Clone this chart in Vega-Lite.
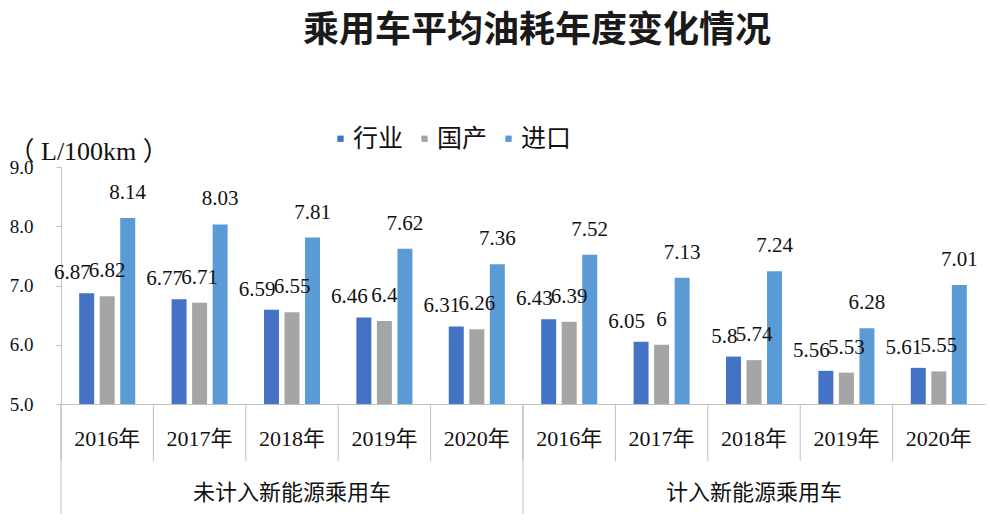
{
  "$schema": "https://vega.github.io/schema/vega-lite/v6.json",
  "background": "white",
  "padding": {"left": 8, "right": 5, "top": 13, "bottom": 5},
  "bounds": "flush",
  "title": {
    "text": "乘用车平均油耗年度变化情况",
    "font": "Noto Sans CJK SC",
    "fontSize": 36,
    "fontWeight": "bold",
    "color": "#1a1a1a",
    "anchor": "middle",
    "frame": "group",
    "dx": 476,
    "offset": 76
  },
  "data": {
    "values": [
      {"group": "未计入新能源乘用车", "year": "2016年", "series": "行业", "value": 6.87},
      {"group": "未计入新能源乘用车", "year": "2016年", "series": "国产", "value": 6.82},
      {"group": "未计入新能源乘用车", "year": "2016年", "series": "进口", "value": 8.14},
      {"group": "未计入新能源乘用车", "year": "2017年", "series": "行业", "value": 6.77},
      {"group": "未计入新能源乘用车", "year": "2017年", "series": "国产", "value": 6.71},
      {"group": "未计入新能源乘用车", "year": "2017年", "series": "进口", "value": 8.03},
      {"group": "未计入新能源乘用车", "year": "2018年", "series": "行业", "value": 6.59},
      {"group": "未计入新能源乘用车", "year": "2018年", "series": "国产", "value": 6.55},
      {"group": "未计入新能源乘用车", "year": "2018年", "series": "进口", "value": 7.81},
      {"group": "未计入新能源乘用车", "year": "2019年", "series": "行业", "value": 6.46},
      {"group": "未计入新能源乘用车", "year": "2019年", "series": "国产", "value": 6.4},
      {"group": "未计入新能源乘用车", "year": "2019年", "series": "进口", "value": 7.62},
      {"group": "未计入新能源乘用车", "year": "2020年", "series": "行业", "value": 6.31},
      {"group": "未计入新能源乘用车", "year": "2020年", "series": "国产", "value": 6.26},
      {"group": "未计入新能源乘用车", "year": "2020年", "series": "进口", "value": 7.36},
      {"group": "计入新能源乘用车", "year": "2016年", "series": "行业", "value": 6.43},
      {"group": "计入新能源乘用车", "year": "2016年", "series": "国产", "value": 6.39},
      {"group": "计入新能源乘用车", "year": "2016年", "series": "进口", "value": 7.52},
      {"group": "计入新能源乘用车", "year": "2017年", "series": "行业", "value": 6.05},
      {"group": "计入新能源乘用车", "year": "2017年", "series": "国产", "value": 6},
      {"group": "计入新能源乘用车", "year": "2017年", "series": "进口", "value": 7.13},
      {"group": "计入新能源乘用车", "year": "2018年", "series": "行业", "value": 5.8},
      {"group": "计入新能源乘用车", "year": "2018年", "series": "国产", "value": 5.74},
      {"group": "计入新能源乘用车", "year": "2018年", "series": "进口", "value": 7.24},
      {"group": "计入新能源乘用车", "year": "2019年", "series": "行业", "value": 5.56},
      {"group": "计入新能源乘用车", "year": "2019年", "series": "国产", "value": 5.53},
      {"group": "计入新能源乘用车", "year": "2019年", "series": "进口", "value": 6.28},
      {"group": "计入新能源乘用车", "year": "2020年", "series": "行业", "value": 5.61},
      {"group": "计入新能源乘用车", "year": "2020年", "series": "国产", "value": 5.55},
      {"group": "计入新能源乘用车", "year": "2020年", "series": "进口", "value": 7.01}
    ]
  },
  "facet": {
    "column": {
      "field": "group",
      "type": "nominal",
      "sort": ["未计入新能源乘用车", "计入新能源乘用车"],
      "header": {
        "title": null,
        "labelOrient": "bottom",
        "labelFont": "Noto Sans CJK SC",
        "labelFontSize": 22,
        "labelColor": "#111",
        "labelPadding": 34
      }
    }
  },
  "spacing": 0,
  "spec": {
    "width": 462,
    "height": 237,
    "encoding": {
      "x": {
        "field": "year",
        "type": "nominal",
        "scale": {"paddingInner": 0, "paddingOuter": 0},
        "axis": {
          "title": null,
          "ticks": false,
          "labelAngle": 0,
          "labelFont": "Liberation Serif, Noto Sans CJK SC",
          "labelFontSize": 22,
          "labelColor": "#111",
          "labelPadding": 24,
          "domainColor": "#BFBFBF"
        }
      }
    },
    "layer": [
      {
        "mark": {"type": "bar"},
        "encoding": {
          "y": {
            "field": "value",
            "type": "quantitative",
            "scale": {"domain": [5, 9], "zero": false, "nice": false},
            "axis": {
              "title": "（ L/100km ）",
              "titleAngle": 0,
              "titleAlign": "left",
              "titleBaseline": "middle",
              "titleX": -53,
              "titleY": -16,
              "titleFont": "Liberation Serif, Noto Sans CJK SC",
              "titleFontSize": 26,
              "titleFontWeight": "normal",
              "titleColor": "#111",
              "values": [5, 6, 7, 8, 9],
              "format": ".1f",
              "grid": false,
              "tickSize": 5,
              "tickColor": "#BFBFBF",
              "domainColor": "#BFBFBF",
              "labelFont": "Liberation Serif",
              "labelFontSize": 19,
              "labelColor": "#111",
              "labelPadding": 23
            }
          },
          "y2": {"datum": 5},
          "xOffset": {
            "field": "series",
            "type": "nominal",
            "sort": ["行业", "国产", "进口"],
            "scale": {"paddingInner": 0.27, "paddingOuter": 0.885}
          },
          "color": {
            "field": "series",
            "type": "nominal",
            "sort": ["行业", "国产", "进口"],
            "scale": {"domain": ["行业", "国产", "进口"], "range": ["#4472C4", "#A5A5A5", "#5B9BD5"]},
            "legend": {
              "title": null,
              "orient": "none",
              "direction": "horizontal",
              "legendX": 267,
              "legendY": -41,
              "symbolType": "square",
              "symbolSize": 40,
              "symbolStrokeWidth": 0,
              "labelFont": "Noto Sans CJK SC",
              "labelFontSize": 25,
              "labelColor": "#111",
              "labelOffset": 0,
              "columnPadding": 8
            }
          }
        }
      },
      {
        "transform": [{"filter": "datum.series == '行业'"}],
        "mark": {"type": "text", "align": "right", "baseline": "middle", "dx": 4, "dy": -20, "font": "Liberation Serif", "fontSize": 21, "color": "#111"},
        "encoding": {
          "y": {"field": "value", "type": "quantitative"},
          "xOffset": {"field": "series", "type": "nominal", "sort": ["行业", "国产", "进口"]},
          "text": {"field": "value", "type": "nominal"}
        }
      },
      {
        "transform": [{"filter": "datum.series != '行业'"}],
        "mark": {"type": "text", "align": "center", "baseline": "middle", "dy": -25, "font": "Liberation Serif", "fontSize": 21, "color": "#111"},
        "encoding": {
          "y": {"field": "value", "type": "quantitative"},
          "xOffset": {"field": "series", "type": "nominal", "sort": ["行业", "国产", "进口"]},
          "text": {"field": "value", "type": "nominal"}
        }
      },
      {
        "transform": [{"filter": "datum.series == '行业'"}],
        "mark": {"type": "rule", "color": "#BFBFBF", "strokeWidth": 1},
        "encoding": {
          "x": {"field": "year", "type": "nominal", "bandPosition": 0},
          "y": {"datum": 5},
          "y2": {"datum": 4.038}
        }
      },
      {
        "transform": [{"filter": "datum.series == '行业' && datum.year == '2016年'"}],
        "mark": {"type": "rule", "color": "#BFBFBF", "strokeWidth": 1},
        "encoding": {
          "x": {"field": "year", "type": "nominal", "bandPosition": 0},
          "y": {"datum": 5},
          "y2": {"datum": 3.143}
        }
      }
    ]
  },
  "config": {
    "view": {"stroke": null}
  }
}
